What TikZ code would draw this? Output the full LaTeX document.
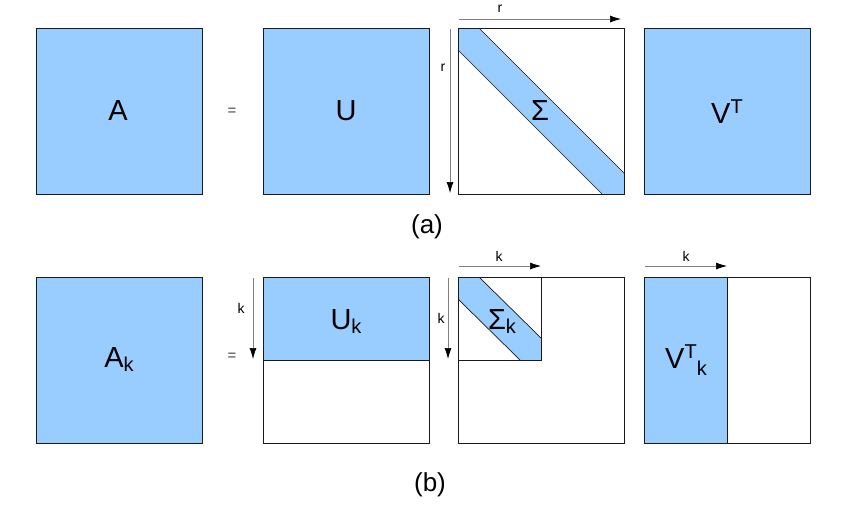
\documentclass[tikz,border=0pt]{standalone}
\usepackage{fontspec}
\setmainfont{Liberation Sans}
\usetikzlibrary{arrows.meta}
\definecolor{matblue}{HTML}{99CCFF}
\definecolor{edge}{HTML}{1A1A1A}
\definecolor{dimgray}{HTML}{808080}
\tikzset{
  mat/.style={draw=edge, line width=0.9pt, minimum width=166pt, minimum height=166pt, inner sep=0pt, anchor=north west},
  half/.style={draw=edge, line width=0.9pt, inner sep=0pt, anchor=north west},
  big/.style={font=\fontsize{29}{29}\selectfont, inner sep=0pt},
  captxt/.style={font=\fontsize{26}{26}\selectfont, inner sep=0pt},
  dimlbl/.style={font=\fontsize{14}{14}\selectfont, inner sep=0pt},
  eq/.style={font=\fontsize{15}{15}\selectfont, inner sep=0pt, text=black!75},
  dimarrow/.style={draw=dimgray, line width=0.7pt, -{Latex[length=11pt,width=7pt,black]}},
  bandedge/.style={draw=edge, line width=0.7pt}
}
\newcommand{\sbs}[1]{{\fontsize{20}{20}\selectfont #1}}
\begin{document}
\begin{tikzpicture}[x=1pt,y=-1pt]
\useasboundingbox (0,0) rectangle (848,515);
% ---------- row (a) ----------
\node[mat, fill=matblue] (A) at (36,28) {};
\node[big] (Alab) at (118,111) {A};
\node[eq] (eq1) at (232,112) {=};
\node[mat, fill=matblue] (U) at (263,28) {};
\node[big] (Ulab) at (346,111) {U};
% Sigma
\fill[matblue] (479,28) -- (624,173) -- (624,194) -- (602,194) -- (458,50) -- (458,28) -- cycle;
\draw[bandedge] (479,28) -- (624,173);
\draw[bandedge] (458,50) -- (602,194);
\node[mat] (S) at (458,28) {};
\node[big] (Slab) at (540,111) {Σ};
\coordinate (rh0) at (459,19);
\coordinate (rh1) at (621,19);
\draw[dimarrow] (rh0) -- (rh1);
\node[dimlbl] (rlab1) at (500,9) {r};
\coordinate (rv0) at (450,29);
\coordinate (rv1) at (450,193);
\draw[dimarrow] (rv0) -- (rv1);
\node[dimlbl] (rlab2) at (443,68) {r};
% V^T
\node[mat, fill=matblue] (V) at (644,28) {};
\node[big] (Vlab) at (727,112) {V\raisebox{10pt}{\sbs{T}}};
\node[captxt] (capa) at (427,227) {(a)};
% ---------- row (b) ----------
\node[mat, fill=matblue] (Ak) at (36,277) {};
\node[big] (Aklab) at (119,360) {A\raisebox{-4pt}{\sbs{k}}};
\node[eq] (eq2) at (232,357) {=};
\node[mat] (Uk) at (263,277) {};
\node[half, fill=matblue, minimum width=166pt, minimum height=83pt] (Uktop) at (263,277) {};
\node[big] (Uklab) at (346,322) {U\raisebox{-4pt}{\sbs{k}}};
\coordinate (kv0) at (253,278);
\coordinate (kv1) at (253,359);
\draw[dimarrow] (kv0) -- (kv1);
\node[dimlbl] (klab1) at (241,308) {k};
% Sigma_k
\node[mat] (Sk) at (458,277) {};
\fill[matblue] (479,277) -- (541,338) -- (541,360) -- (520,360) -- (458,299) -- (458,277) -- cycle;
\draw[bandedge] (479,277) -- (541,338);
\draw[bandedge] (458,299) -- (520,360);
\node[half, minimum width=83pt, minimum height=83pt] (Skin) at (458,277) {};
\node[big] (Sklab) at (502,322) {Σ\raisebox{-4pt}{\sbs{k}}};
\coordinate (kh0) at (459,266);
\coordinate (kh1) at (541,266);
\draw[dimarrow] (kh0) -- (kh1);
\node[dimlbl] (klab2) at (499,256) {k};
\coordinate (kv2) at (448,278);
\coordinate (kv3) at (448,359);
\draw[dimarrow] (kv2) -- (kv3);
\node[dimlbl] (klab3) at (441,318) {k};
% V^T_k
\node[mat] (Vk) at (644,277) {};
\node[half, fill=matblue, minimum width=83pt, minimum height=166pt] (Vkl) at (644,277) {};
\node[big] (Vklab) at (686,360) {V\raisebox{10pt}{\sbs{T}}\raisebox{-7pt}{\sbs{k}}};
\coordinate (kh2) at (645,266);
\coordinate (kh3) at (727,266);
\draw[dimarrow] (kh2) -- (kh3);
\node[dimlbl] (klab4) at (686,256) {k};
\node[captxt] (capb) at (430,485) {(b)};
\end{tikzpicture}
\end{document}
